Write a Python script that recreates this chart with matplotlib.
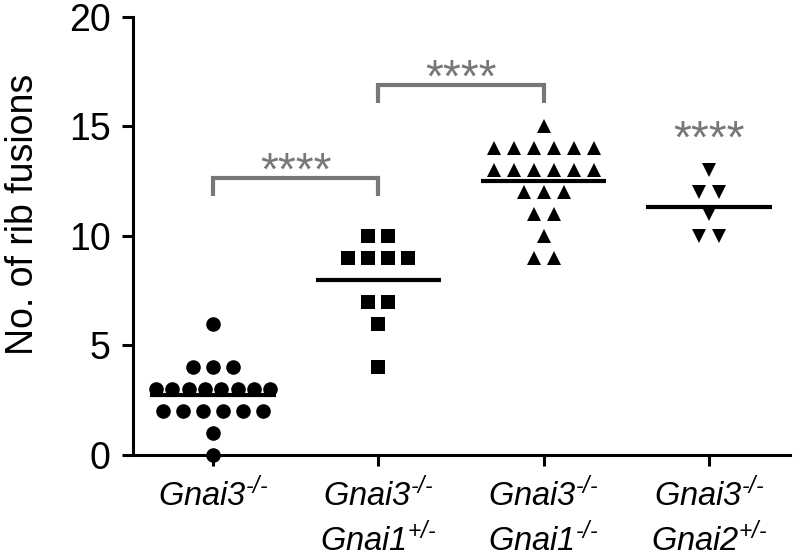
import numpy as np
import matplotlib
matplotlib.use("Agg")
import matplotlib.pyplot as plt

plt.rcParams['font.family'] = ['Liberation Sans', 'DejaVu Sans']
plt.rcParams['mathtext.fontset'] = 'custom'
plt.rcParams['mathtext.it'] = 'Liberation Sans:italic'
plt.rcParams['mathtext.rm'] = 'Liberation Sans:italic'
plt.rcParams['mathtext.bf'] = 'Liberation Sans:bold'

# ---- data ----
tick_labels = [r"$\mathrm{Gnai3}^{\text{-/-}}$",
               r"$\mathrm{Gnai3}^{\text{-/-}}$" + "\n" + r"$\mathrm{Gnai1}^{\text{+/-}}$",
               r"$\mathrm{Gnai3}^{\text{-/-}}$" + "\n" + r"$\mathrm{Gnai1}^{\text{-/-}}$",
               r"$\mathrm{Gnai3}^{\text{-/-}}$" + "\n" + r"$\mathrm{Gnai2}^{\text{+/-}}$"]
g1 = [6, 4, 4, 4, 3, 3, 3, 3, 3, 3, 3, 3, 2, 2, 2, 2, 2, 2, 1, 0]
g2 = [10, 10, 9, 9, 9, 9, 7, 7, 6, 4]
g3 = [15, 14, 14, 14, 14, 14, 14, 13, 13, 13, 13, 13, 13, 12, 12, 12, 11, 11, 10, 9, 9]
g4 = [13, 12, 12, 11, 10, 10]
groups = [g1, g2, g3, g4]
markers = ['o', 's', '^', 'v']
yticks = [0, 5, 10, 15, 20]
star_text = "****"
# brackets: (x1, x2, y_top, y_bottom), star label y
brackets = [(0, 1, 12.65, 11.83, 12.88), (1, 2, 16.9, 16.07, 17.13)]
single_star = (3, 14.33)

grey = '#777777'

fig = plt.figure(figsize=(7.98, 5.57), dpi=100)
ax = fig.add_axes([0.1667, 0.183, 0.823, 0.787])

for i, (vals, m) in enumerate(zip(groups, markers)):
    vals = np.array(vals, dtype=float)
    xs = []
    ys = []
    for v in np.unique(vals):
        n = int(np.sum(vals == v))
        sp = min(0.121, 0.69 / (n - 1)) if n > 1 else 0
        offs = (np.arange(n) - (n - 1) / 2) * sp
        xs.extend(i + offs)
        ys.extend([v] * n)
    ax.plot(xs, ys, linestyle='none', marker=m, color='black', markersize=10.5,
            markeredgewidth=0, clip_on=False, zorder=3)
    mu = vals.mean()
    ax.plot([i - 0.38, i + 0.38], [mu, mu], color='black', lw=3, solid_capstyle='butt', zorder=4)

for x1, x2, yt, yb, ys in brackets:
    ax.plot([x1, x1, x2, x2], [yb, yt, yt, yb], color=grey, lw=3, solid_capstyle='butt',
            solid_joinstyle='miter', clip_on=False)
    ax.text((x1 + x2) / 2, ys, star_text, color=grey, fontsize=33, ha='center', va='center')
ax.text(single_star[0], single_star[1], star_text, color=grey, fontsize=33, ha='center', va='center')

ax.set_xlim(-0.485, 3.49)
ax.set_ylim(0, 20)
ax.set_yticks(yticks)
ax.set_xticks(range(4))
ax.set_xticklabels(tick_labels, fontsize=23.5, linespacing=1.32, va='top')
ax.tick_params(axis='y', labelsize=27, width=2.2, length=8, pad=8)
ax.tick_params(axis='x', width=2.2, length=8, pad=8)
for s in ['top', 'right']:
    ax.spines[s].set_visible(False)
for s in ['left', 'bottom']:
    ax.spines[s].set_linewidth(2.2)
ax.set_ylabel("No. of rib fusions", fontsize=27)
ax.yaxis.set_label_coords(-0.140, 0.55)

fig.savefig("out.png", dpi=100)
